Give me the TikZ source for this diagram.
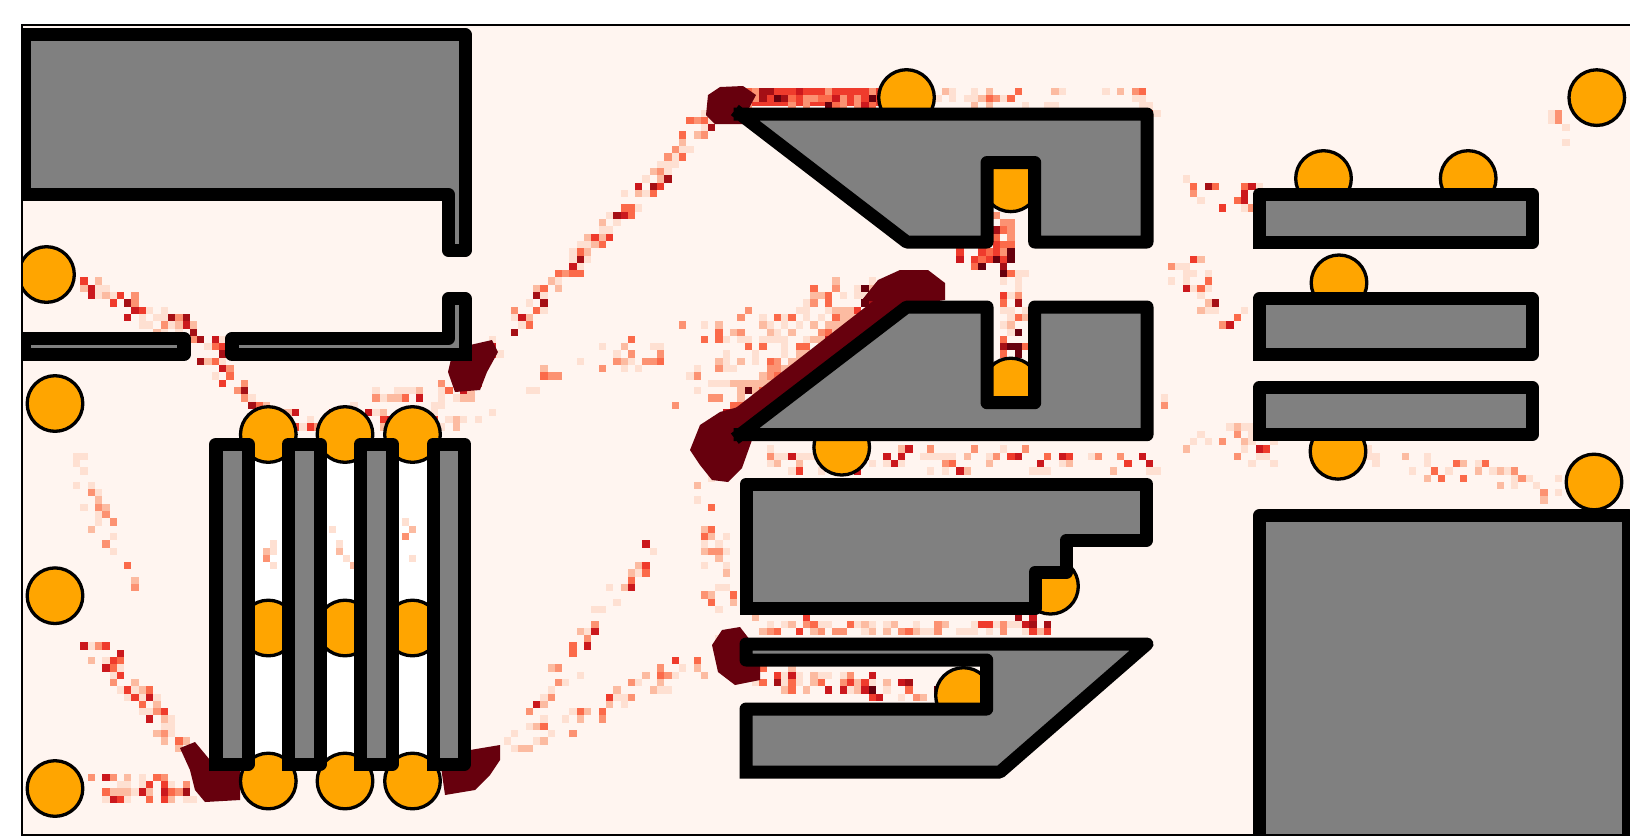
\documentclass[tikz,border=0pt]{standalone}
\definecolor{bgpink}{HTML}{FFF5F0}
\definecolor{heat0}{HTML}{FEE0D2}
\definecolor{heat1}{HTML}{FCBBA1}
\definecolor{heat2}{HTML}{FC9272}
\definecolor{heat3}{HTML}{FB6A4A}
\definecolor{heat4}{HTML}{EF3B2C}
\definecolor{heat5}{HTML}{CB181D}
\definecolor{heat6}{HTML}{A50F15}
\definecolor{heat7}{HTML}{67000D}
\definecolor{obst}{HTML}{808080}
\definecolor{agent}{HTML}{FFA500}
% x1 y1 x2 y2 n spread minlevel maxlevel
\newcommand\heattrail[8]{%
  \foreach \k in {1,...,#5}{%
    \pgfmathsetmacro\hT{rnd}%
    \pgfmathsetmacro\hX{#1+(#3-#1)*\hT+#6*rand}%
    \pgfmathsetmacro\hY{#2+(#4-#2)*\hT+#6*rand}%
    \pgfmathsetmacro\hX{round(\hX/7.3)*7.3}%
    \pgfmathsetmacro\hY{round(\hY/7.3)*7.3}%
    \pgfmathsetmacro\hR{rnd}%
    \pgfmathtruncatemacro\hC{min(7,#7+floor(\hR*\hR*(#8-#7+1)))}%
    \fill[fill=heat\hC] (\hX,\hY) rectangle ++(7.3,7.3);
  }}
\tikzset{
  obstacle/.style={fill=obst, draw=black, line width=0.13cm, line join=round, line cap=rect},
  agentdot/.style={fill=agent, draw=black, line width=0.033cm},
  blob/.style={fill=heat7}
}
\begin{document}
\begin{tikzpicture}[x=0.01cm,y=-0.01cm]
\useasboundingbox (0,0) rectangle (1630,838);
\fill[white] (0,0) rectangle (1630,838);
\begin{scope}
\clip (22,25) rectangle (1640,835);
\fill[bgpink] (22,25) rectangle (1640,835);
% masked strips between slats
\fill[white] (255,437) rectangle (281.7,771);
\fill[white] (326.7,437) rectangle (354,771);
\fill[white] (399,437) rectangle (426.7,771);
% ---------------- heat map ----------------
\pgfmathsetseed{7}
\heattrail{75}{280}{200}{335}{60}{10}{0}{6}
\heattrail{200}{335}{250}{400}{30}{10}{0}{6}
\heattrail{62}{440}{135}{595}{28}{10}{0}{3}
\heattrail{85}{640}{185}{745}{70}{11}{0}{5}
\heattrail{88}{783}{185}{790}{60}{12}{0}{6}
\heattrail{235}{410}{480}{420}{50}{12}{0}{6}
\heattrail{380}{400}{480}{380}{30}{12}{0}{5}
\heattrail{480}{355}{712}{110}{150}{9}{0}{6}
\heattrail{520}{375}{870}{290}{60}{15}{0}{3}
\fill[heat4] (745,88) rectangle (880,106);
\heattrail{720}{90}{880}{98}{100}{8}{2}{7}
\heattrail{900}{92}{1150}{92}{40}{8}{0}{3}
\heattrail{1128}{95}{1168}{120}{10}{7}{0}{6}
\heattrail{690}{390}{860}{290}{80}{26}{0}{3}
\heattrail{722}{414}{888}{286}{170}{12}{1}{7}
\fill[heat7] (742,436) -- (905,307) -- (890,288) -- (728,414) -- cycle;
\heattrail{1000}{215}{1000}{262}{30}{11}{2}{7}
\heattrail{960}{255}{1005}{258}{16}{6}{3}{7}
\heattrail{1010}{275}{1010}{350}{45}{13}{0}{7}
\heattrail{760}{455}{1150}{458}{90}{11}{0}{5}
\heattrail{700}{480}{725}{620}{35}{16}{0}{3}
\heattrail{520}{725}{650}{540}{45}{10}{0}{5}
\heattrail{500}{745}{705}{655}{60}{11}{0}{4}
\heattrail{750}{622}{1045}{625}{70}{7}{0}{4}
\heattrail{1020}{618}{1045}{628}{8}{6}{4}{7}
\heattrail{760}{672}{930}{690}{70}{9}{0}{7}
\heattrail{1180}{180}{1260}{200}{22}{13}{0}{6}
\heattrail{1175}{262}{1235}{325}{35}{15}{0}{6}
\heattrail{1237}{423}{1270}{455}{14}{9}{0}{6}
\heattrail{1330}{445}{1560}{485}{50}{11}{0}{3}
\heattrail{1130}{405}{1260}{455}{20}{20}{0}{2}
\heattrail{1547}{113}{1570}{135}{6}{5}{0}{2}
\heattrail{265}{540}{270}{570}{5}{6}{0}{2}
\heattrail{335}{520}{345}{560}{5}{6}{0}{2}
\heattrail{405}{510}{410}{560}{5}{6}{0}{2}
% dark blobs
\fill[blob] (452,355) -- (470,345) -- (492,340) -- (498,352) -- (487,372) -- (480,390) -- (455,392) -- (448,372) -- cycle;
\fill[blob] (180,748) -- (195,742) -- (210,760) -- (240,765) -- (240,800) -- (205,802) -- (195,790) -- (190,770) -- cycle;
\fill[blob] (440,760) -- (470,750) -- (500,745) -- (500,760) -- (490,775) -- (475,790) -- (445,795) -- cycle;
\fill[blob] (700,425) -- (720,412) -- (742,406) -- (756,416) -- (752,440) -- (742,468) -- (728,482) -- (712,480) -- (700,465) -- (690,450) -- cycle;
\fill[blob] (708,95) -- (720,87) -- (743,86) -- (756,95) -- (748,110) -- (745,124) -- (715,124) -- (706,115) -- cycle;
\fill[blob] (862,300) -- (878,280) -- (900,270) -- (928,270) -- (945,283) -- (945,300) -- (910,305) -- cycle;
\fill[blob] (712,645) -- (722,630) -- (740,627) -- (750,640) -- (760,660) -- (760,680) -- (735,685) -- (718,672) -- cycle;
% ---------------- agents ----------------
\foreach \cx/\cy in {46.5/274.5, 55/403.5, 55/595.7, 55/788.5,
  268.3/434.5, 345/434.5, 412.5/434.5,
  268.3/628, 345/628, 412.5/628,
  268.3/781, 345/781, 412.5/781,
  906.5/97.5, 1010.8/183.8, 1010.8/386, 841.7/447.2, 1050.5/586.2, 963.5/695.5,
  1323.5/178.5, 1468.2/178.5, 1339/282.8, 1338/451.3, 1596.8/97.6, 1594/482}
  {\path[agentdot] (\cx,\cy) circle[radius=0.278cm];}
% ---------------- obstacles ----------------
\filldraw[obstacle] (24,194.7) -- (24,34.5) -- (465,34.5) -- (465,250.3) -- (448.5,250.3) -- (448.5,194.7) -- (24,194.7);
\filldraw[obstacle] (24,354.5) -- (24,338.5) -- (184,338.5) -- (184,354.5) -- (24,354.5);
\filldraw[obstacle] (465,354.5) -- (232,354.5) -- (232,338.5) -- (448.5,338.5) -- (448.5,298.8) -- (465,298.8) -- (465,354.5);
\foreach \xa/\xb in {216/248.3, 288.3/320.2, 360.5/392.5, 433/464.5}
  {\filldraw[obstacle] (\xa,764) -- (\xb,764) -- (\xb,444) -- (\xa,444) -- (\xa,764);}
% piece A
\filldraw[obstacle] (740,114) -- (1147,114) -- (1147,242) -- (1034.7,242) -- (1034.7,162.5) -- (987,162.5) -- (987,242) -- (906.7,242) -- (740,114);
% piece B
\filldraw[obstacle] (740,434.7) -- (906.7,307) -- (987,307) -- (987,402.7) -- (1034.7,402.7) -- (1034.7,307) -- (1147,307) -- (1147,434.7) -- (740,434.7);
% piece C
\filldraw[obstacle] (746,608.3) -- (746,484) -- (1146.7,484) -- (1146.7,540) -- (1066.7,540) -- (1066.7,572) -- (1035,572) -- (1035,608.3) -- (746,608.3);
% piece D
\filldraw[obstacle] (746,772) -- (746,709) -- (986.7,709) -- (986.7,660) -- (746,660) -- (746,644) -- (1147,644) -- (1000,772) -- (746,772);
% right bars
\foreach \ya/\yb in {194.2/242.5, 298.8/354.5, 387.5/434.5}
  {\filldraw[obstacle] (1259.2,\yb) -- (1532.2,\yb) -- (1532.2,\ya) -- (1259.2,\ya) -- (1259.2,\yb);}
\filldraw[obstacle] (1259.5,840) -- (1259.5,515.7) -- (1628,515.7) -- (1628,840);
\end{scope}
\draw[line width=0.02cm] (1630,25) -- (22,25) -- (22,835) -- (1630,835);
\end{tikzpicture}
\end{document}
